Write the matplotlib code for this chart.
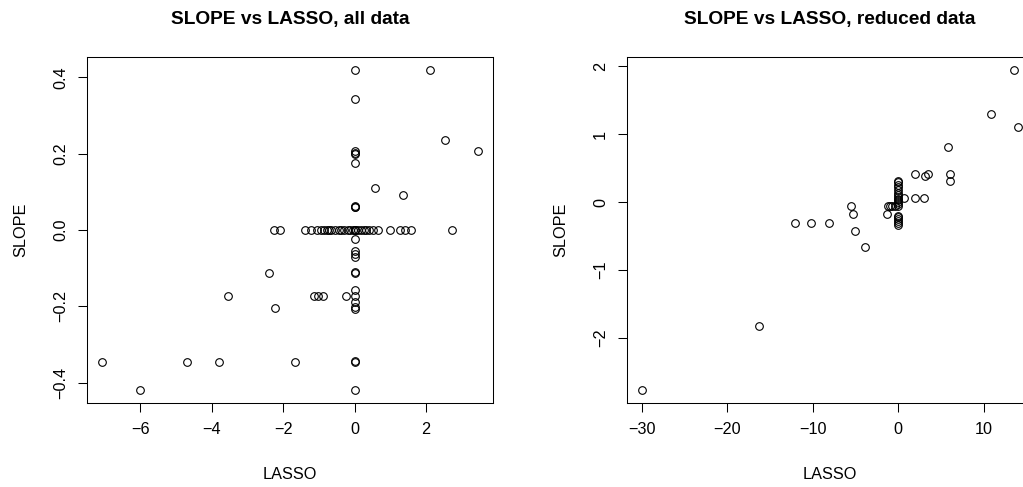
import matplotlib
matplotlib.use("Agg")
import matplotlib.pyplot as plt
import numpy as np

plt.rcParams['font.family'] = ['Liberation Sans', 'DejaVu Sans']

# ---- all data: LASSO vs SLOPE ----
# points on the SLOPE = 0 row
row_lasso = [-2.25, -2.1, -1.38, -1.22, -1.05, -0.95, -0.85, -0.78, -0.72, -0.65,
             -0.55, -0.45, -0.38, -0.3, -0.2, -0.12, -0.05, 0.1, 0.17, 0.25,
             0.33, 0.4, 0.5, 0.66, 1.0, 1.27, 1.4, 1.57, 2.73]
# points on the LASSO = 0 column
col_slope = [0.42, 0.344, 0.207, 0.203, 0.2, 0.176, 0.063, 0.061, 0.059, 0.0, 0.0, 0.0,
             -0.024, -0.055, -0.064, -0.072, -0.111, -0.114, -0.157, -0.172, -0.19,
             -0.203, -0.207, -0.344, -0.346, -0.419]
other_lasso = [-7.07, -6.0, -4.68, -3.81, -3.54, -2.41, -2.23, -1.67, -1.14, -1.04,
               -0.9, -0.25, 2.12, 2.52, 3.45, 0.57, 1.35]
other_slope = [-0.345, -0.42, -0.345, -0.345, -0.1725, -0.114, -0.205, -0.345, -0.1725, -0.1725,
               -0.1725, -0.1725, 0.42, 0.235, 0.206, 0.111, 0.092]

all_lasso = np.array(row_lasso + [0.0] * len(col_slope) + other_lasso)
all_slope = np.array([0.0] * len(row_lasso) + col_slope + other_slope)

# ---- reduced data ----
red_col_slope = [0.31, 0.29, 0.26, 0.22, 0.18, 0.14, 0.11, 0.08, 0.05, 0.03, 0.0,
                 -0.03, -0.06, -0.2, -0.22, -0.25, -0.28, -0.31, -0.34]
red_other_lasso = [-30.0, -16.26, -12.05, -10.2, -8.15, -5.53, -5.26, -5.03, -3.94, -1.37,
                   -1.2, -0.95, -0.7, -0.45, 0.7, 1.95, 3.04, 1.99, 3.16, 3.47,
                   5.77, 6.0, 6.05, 10.88, 13.5, 14.0]
red_other_slope = [-2.77, -1.83, -0.31, -0.31, -0.31, -0.05, -0.18, -0.42, -0.656, -0.18,
                   -0.05, -0.05, -0.05, -0.05, 0.06, 0.06, 0.06, 0.42, 0.38, 0.42,
                   0.81, 0.42, 0.31, 1.30, 1.95, 1.11]

red_lasso = np.array([0.0] * len(red_col_slope) + red_other_lasso)
red_slope = np.array(red_col_slope + red_other_slope)

left_xticks = [-6, -4, -2, 0, 2]
left_yticks = [-0.4, -0.2, 0.0, 0.2, 0.4]
right_xticks = [-30, -20, -10, 0, 10]
right_yticks = [-2, -1, 0, 1, 2]


def rlim(v):
    lo, hi = min(v), max(v)
    pad = (hi - lo) * 0.04
    return lo - pad, hi + pad


fig = plt.figure(figsize=(10.23, 4.87), dpi=100)
W, H = 1023, 487
ax1 = fig.add_axes([87 / W, (H - 403) / H, 406 / W, 346 / H])
ax2 = fig.add_axes([627 / W, (H - 403) / H, 406 / W, 346 / H])

panels = [
    (ax1, all_lasso, all_slope, "SLOPE vs LASSO, all data", left_xticks, left_yticks,
     ["\u22126", "\u22124", "\u22122", "0", "2"], ["\u22120.4", "\u22120.2", "0.0", "0.2", "0.4"]),
    (ax2, red_lasso, red_slope, "SLOPE vs LASSO, reduced data", right_xticks, right_yticks,
     ["\u221230", "\u221220", "\u221210", "0", "10"], ["\u22122", "\u22121", "0", "1", "2"]),
]

for ax, x, y, title, xt, yt, xtl, ytl in panels:
    ax.plot(x, y, 'o', mfc='none', mec='black', ms=5.5, mew=0.8, clip_on=False)
    ax.set_xlim(*rlim(x))
    ax.set_ylim(*rlim(y))
    ax.set_xticks(xt)
    ax.set_xticklabels(xtl)
    ax.set_yticks(yt)
    ax.set_yticklabels(ytl, rotation=90, va='center')
    ax.tick_params(direction='out', length=6.5, width=0.75, labelsize=11.7, pad=7)
    for s in ax.spines.values():
        s.set_linewidth(0.75)
    ax.set_title(title, fontsize=13.8, fontweight='bold', pad=24)
    ax.set_xlabel("LASSO", fontsize=11.7, labelpad=22)
    ax.set_ylabel("SLOPE", fontsize=11.7, labelpad=18)

fig.savefig("out.png", dpi=100)
